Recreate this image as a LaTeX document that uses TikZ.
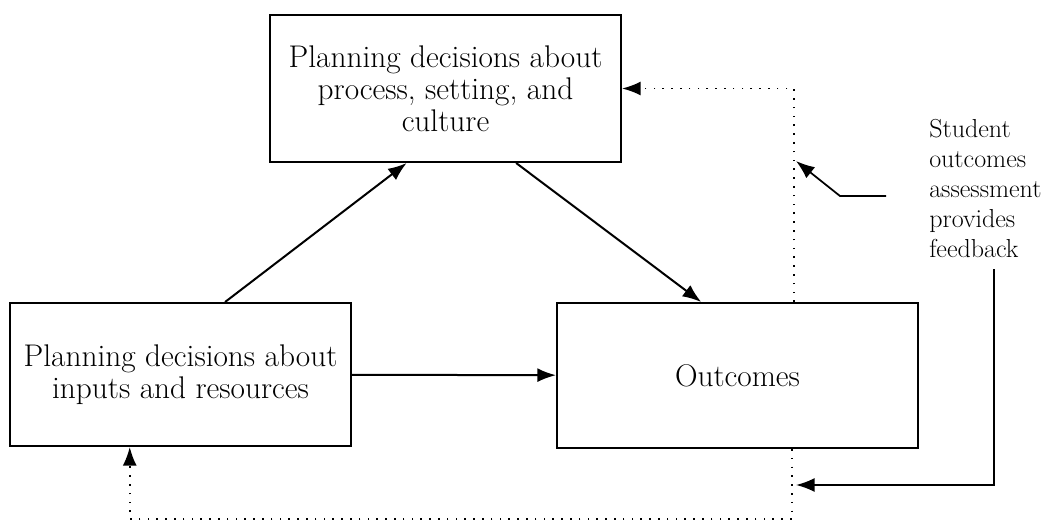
\documentclass[tikz,border=0pt]{standalone}
\usetikzlibrary{arrows.meta,calc}
\begin{document}
\begin{tikzpicture}[x=0.75pt,y=-0.75pt,
  box/.style={draw,line width=1.5pt,align=center,inner sep=0pt,
    font=\fontsize{23.5}{24}\selectfont},
  tip/.style={-{Latex[length=14pt,width=10.5pt]}},
  flow/.style={line width=1.5pt,tip},
  feedback/.style={line width=1.4pt,dash pattern=on 1.2pt off 5.4pt,tip},
  pointer/.style={line width=1.3pt,tip},
  note/.style={align=left,inner sep=0pt,anchor=north west,
    font=\fontsize{19.5}{22.5}\selectfont}]
\useasboundingbox (0,0) rectangle (1051,521);

% the three planning stages
\node[box,minimum width=351*0.75pt,minimum height=147*0.75pt] (plan) at (445.5,88.5)
  {Planning decisions about\\process, setting, and\\culture};
\node[box,minimum width=341*0.75pt,minimum height=143*0.75pt] (inputs) at (180.5,374.5)
  {Planning decisions about\\inputs and resources};
\node[box,minimum width=361*0.75pt,minimum height=145*0.75pt] (out) at (737.5,375.5)
  {Outcomes};

% side note
\node[note] (note) at (929,119)
  {Student\\outcomes\\assessment\\provides\\feedback};

% forward flow
\draw[flow] ($(inputs.north west)!0.63!(inputs.north east)$) -- ($(plan.south west)!0.39!(plan.south east)$);
\draw[flow] ($(plan.south west)!0.70!(plan.south east)$) -- ($(out.north west)!0.40!(out.north east)$);
\draw[flow] (inputs) -- (out);

% feedback loops
\draw[feedback] ($(out.north west)!0.655!(out.north east)$) |- (plan.east);
\draw[feedback] ($(out.south west)!0.650!(out.south east)$) -- ++(0,70)
  -| ($(inputs.south west)!0.352!(inputs.south east)$);

% pointers from the note to the feedback lines
\coordinate (upTap) at (796,161);
\coordinate (downTap) at (796,485);
\draw[pointer] ($(note.north west)+(-43,77)$) -- ++(-46,0) -- (upTap);
\draw[pointer] ($(note.north west)+(65,150)$) |- (downTap);
\end{tikzpicture}
\end{document}
